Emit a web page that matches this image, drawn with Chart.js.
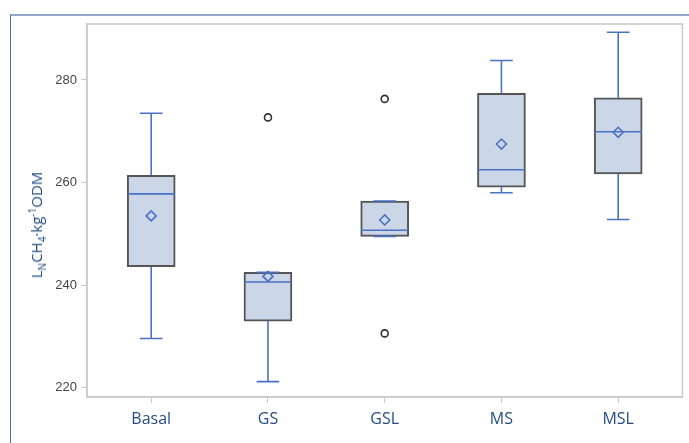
<!DOCTYPE html>
<html>
<head>
<meta charset="utf-8">
<script src="https://cdn.jsdelivr.net/npm/chart.js@4.4.1/dist/chart.umd.min.js"></script>
<style>
    html, body { margin: 0; padding: 0; background: #fff; }
    #wrap { position: relative; width: 689px; height: 443px; overflow: hidden; }
    #frame {
        position: absolute; left: 10px; top: 14px; width: 800px; height: 600px;
        border-top: 2px solid #93a5cd; border-left: 1px solid #4e6ea5;
    }
    #chart { position: absolute; left: 0; top: 0; }
    #ylabel {
        position: absolute; left: 37px; top: 225px;
        transform: translate(-50%, -50%) rotate(-90deg);
        white-space: nowrap; color: #254d85;
        font-family: "Open Sans", sans-serif; font-size: 15px;
    }
    #ylabel sub, #ylabel sup { font-size: 10px; }
</style>
</head>
<body>
<div id="wrap">
    <div id="frame"></div>
    <canvas id="chart" width="689" height="443"></canvas>
    <div id="ylabel">L<sub>N</sub>CH<sub>4</sub>·kg<sup>-1</sup>ODM</div>
</div>
<script>
// ---------------------------------------------------------------------------
// Data
// ---------------------------------------------------------------------------

const categories = ["Basal", "GS", "GSL", "MS", "MSL"];
const whiskerLow = [229.6, 221.2, 249.5, 258.0, 252.8];
const q1 = [243.6, 233.0, 249.5, 259.1, 261.7];
const medians = [257.8, 240.6, 250.7, 262.5, 269.9];
const q3 = [261.4, 242.5, 256.4, 277.4, 276.5];
const whiskerHigh = [273.5, 242.5, 256.4, 283.8, 289.3];
const means = [253.5, 241.7, 252.7, 267.5, 269.8];
const outlierCats = ["GS", "GSL", "GSL"];
const outlierValues = [272.7, 276.3, 230.6];
const yTicks = [220, 240, 260, 280];

const BLUE = "#4a72c4";
const BOX_HALF = 0.203;
const CAP_HALF = 0.097;

// ---------------------------------------------------------------------------
// Build line segments for whiskers, caps and medians
// ---------------------------------------------------------------------------

const whiskerPts = [];
categories.forEach((c, i) => {
    whiskerPts.push({ x: i, y: q3[i] }, { x: i, y: whiskerHigh[i] }, { x: i, y: null });
    whiskerPts.push({ x: i, y: q1[i] }, { x: i, y: whiskerLow[i] }, { x: i, y: null });
    whiskerPts.push({ x: i - CAP_HALF, y: whiskerHigh[i] }, { x: i + CAP_HALF, y: whiskerHigh[i] }, { x: i, y: null });
    whiskerPts.push({ x: i - CAP_HALF, y: whiskerLow[i] }, { x: i + CAP_HALF, y: whiskerLow[i] }, { x: i, y: null });
});

const medianPts = [];
categories.forEach((c, i) => {
    medianPts.push({ x: i - BOX_HALF, y: medians[i] }, { x: i + BOX_HALF, y: medians[i] }, { x: i, y: null });
});

const plotFrame = {
    id: "plotFrame",
    beforeDatasetsDraw(chart) {
        const a = chart.chartArea;
        const g = chart.ctx;
        g.save();
        g.strokeStyle = "#c9c9c9";
        g.lineWidth = 1.5;
        g.strokeRect(a.left, a.top, a.right - a.left, a.bottom - a.top);
        g.restore();
    },
};

const ctx = document.getElementById("chart").getContext("2d");
new Chart(ctx, {
    type: "bar",
    data: {
        datasets: [
            {
                type: "bar",
                data: categories.map((c, i) => ({ x: i, y: [q1[i], q3[i]] })),
                backgroundColor: "#cbd6e7",
                borderColor: "#555",
                borderWidth: 2,
                borderSkipped: false,
                barThickness: 48,
                order: 10,
            },
            {
                type: "line",
                data: whiskerPts,
                borderColor: BLUE,
                borderWidth: 1.6,
                pointRadius: 0,
                spanGaps: false,
                fill: false,
                order: 5,
            },
            {
                type: "line",
                data: medianPts,
                borderColor: BLUE,
                borderWidth: 1.6,
                pointRadius: 0,
                spanGaps: false,
                fill: false,
                order: 4,
            },
            {
                type: "scatter",
                data: categories.map((c, i) => ({ x: i, y: means[i] })),
                pointStyle: "rectRot",
                pointRadius: 5,
                borderColor: BLUE,
                borderWidth: 1.6,
                backgroundColor: "rgba(0,0,0,0)",
                order: 2,
            },
            {
                type: "scatter",
                data: outlierCats.map((c, k) => ({ x: categories.indexOf(c), y: outlierValues[k] })),
                pointStyle: "circle",
                pointRadius: 3.5,
                borderColor: "#333",
                borderWidth: 1.6,
                backgroundColor: "rgba(0,0,0,0)",
                order: 1,
            },
        ],
    },
    options: {
        responsive: false,
        animation: false,
        layout: { padding: { left: 0, top: 24, right: 3, bottom: 0 } },
        plugins: { legend: { display: false }, tooltip: { enabled: false } },
        scales: {
            x: {
                type: "linear",
                offset: false,
                min: -0.55,
                max: 4.55,
                afterBuildTicks: (scale) => { scale.ticks = categories.map((c, i) => ({ value: i })); },
                afterFit: (scale) => { scale.height = 46; },
                ticks: {
                    callback: (v) => categories[v],
                    color: "#254d85",
                    font: { family: "Open Sans", size: 16 },
                    padding: 7,
                    maxRotation: 0,
                },
                grid: { offset: false, drawOnChartArea: false, tickLength: 6, color: "#c9c9c9" },
                border: { color: "#c9c9c9", width: 1.5 },
            },
            y: {
                min: 218.2,
                max: 290.9,
                afterBuildTicks: (scale) => { scale.ticks = yTicks.map((v) => ({ value: v })); },
                afterFit: (scale) => { scale.width = 87; },
                ticks: {
                    color: "#444",
                    font: { family: "Liberation Sans", size: 13 },
                    padding: 4,
                },
                grid: { drawOnChartArea: false, tickLength: 6, color: "#c9c9c9" },
                border: { color: "#c9c9c9", width: 1.5 },
            },
        },
    },
    plugins: [plotFrame],
});
</script>
</body>
</html>
